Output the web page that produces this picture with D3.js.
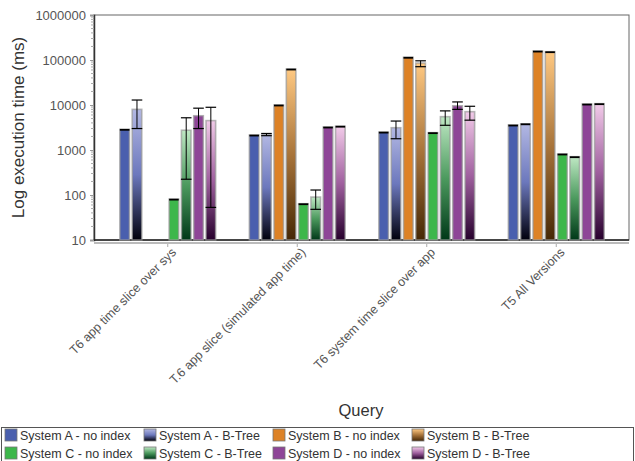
<!DOCTYPE html>
<html><head><meta charset="utf-8">
<script src="https://cdn.jsdelivr.net/npm/d3@7"></script>
<style>body{margin:0;background:#fff}svg{display:block}text{font-family:Arial,"Liberation Sans",sans-serif}</style>
</head><body><svg id="c" width="635" height="461"></svg>
<script>
const categories = ["T6 app time slice over sys","T.6 app slice (simulated app time)","T6 system time slice over app","T5 All Versions"];
const seriesNames = ["System A - no index","System A - B-Tree","System B - no index","System B - B-Tree","System C - no index","System C - B-Tree","System D - no index","System D - B-Tree"];
// values per series, per category (null = no bar)
const sysA_noindex = [2880, 2150, 2500, 3590];
const sysA_btree   = [8000, 2200, 3130, 3820];
const sysB_noindex = [null, 10000, 115000, 158000];
const sysB_btree   = [null, 63000, 85600, 153000];
const sysC_noindex = [81, 64, 2430, 815];
const sysC_btree   = [2750, 90, 5500, 710];
const sysD_noindex = [5770, 3240, 9600, 10500];
const sysD_btree   = [4500, 3380, 7100, 10700];
// error bar low/high
const errLow  = {
  sysA_btree:[3000, 2080, 1780, null], sysC_btree:[224, 48, 3540, null],
  sysD_noindex:[3000, null, 8000, null], sysD_btree:[53, null, 4600, null], sysB_btree:[null, null, 71000, null]
};
const errHigh = {
  sysA_btree:[12900, 2330, 4400, null], sysC_btree:[5200, 129, 7400, null],
  sysD_noindex:[8500, null, 11700, null], sysD_btree:[8900, null, 9370, null], sysB_btree:[null, null, 96000, null]
};
const yTicks = [10,100,1000,10000,100000,1000000];

const seriesKeys = ["sysA_noindex","sysA_btree","sysB_noindex","sysB_btree","sysC_noindex","sysC_btree","sysD_noindex","sysD_btree"];
const seriesVals = [sysA_noindex,sysA_btree,sysB_noindex,sysB_btree,sysC_noindex,sysC_btree,sysD_noindex,sysD_btree];
const solid = {A:"#4a5fae", B:"#dd8226", C:"#3db74b", D:"#8e4597"};
const grad = {
  A:["#b3b8e3","#6c78bd","#00000c"],
  B:["#ffc982","#a8743a","#452705"],
  C:["#bfe8c4","#4c9a5e","#003818"],
  D:["#f2cbe9","#a0609f","#26002c"]
};

const svg = d3.select("#c");
const L=94, R=629, T=15, B=240;
const x = d3.scaleBand().domain(categories).range([103,621]).padding(0);
const groupW = 97;
const xs = d3.scaleBand().domain(seriesKeys).range([-groupW/2, groupW/2]).paddingInner(0.22).paddingOuter(0.05);
const y = d3.scaleLog().domain([10,1e6]).range([B,T]);

const defs = svg.append("defs");
Object.keys(grad).forEach(k=>{
  const g = defs.append("linearGradient").attr("id","g"+k).attr("x1",0).attr("y1",0).attr("x2",0).attr("y2",1);
  g.append("stop").attr("offset","0%").attr("stop-color",grad[k][0]);
  g.append("stop").attr("offset","50%").attr("stop-color",grad[k][1]);
  g.append("stop").attr("offset","100%").attr("stop-color",grad[k][2]);
});
const fillFor = i => { const s = "ABCD"[Math.floor(i/2)]; return i%2===0 ? solid[s] : "url(#g"+s+")"; };

// plot border
svg.append("rect").attr("x",L).attr("y",T).attr("width",R-L).attr("height",B-T)
  .attr("fill","none").attr("stroke","#666").attr("stroke-width",1);

// y axis
const yAxis = d3.axisLeft(y).tickValues(yTicks).tickFormat(d3.format("d")).tickSize(4).tickPadding(4);
const ya = svg.append("g").attr("transform",`translate(${L},0)`).call(yAxis);
ya.select(".domain").attr("stroke","#333").attr("stroke-width",1.5);
ya.selectAll(".tick line").attr("stroke","#999");
ya.selectAll(".tick text").attr("fill","#555").style("font-size","13px");
// minor ticks
const minor = [];
for (let e=1;e<6;e++) for (let m=2;m<10;m++) minor.push(m*Math.pow(10,e));
svg.append("g").selectAll("line").data(minor).join("line")
  .attr("x1",L-3).attr("x2",L).attr("y1",d=>y(d)).attr("y2",d=>y(d)).attr("stroke","#aaa").attr("stroke-width",1);

// bottom plot line
svg.append("line").attr("x1",L).attr("x2",R).attr("y1",B).attr("y2",B).attr("stroke","#222").attr("stroke-width",1.5);

// x axis (below)
const xAxis = d3.axisBottom(x).tickSize(4).tickSizeOuter(0).tickFormat("");
const xa = svg.append("g").attr("transform",`translate(0,${B+3})`).call(xAxis);
xa.select(".domain").remove();
svg.append("line").attr("x1",L).attr("x2",R).attr("y1",B+3).attr("y2",B+3).attr("stroke","#bbb").attr("stroke-width",2);
xa.selectAll(".tick line").attr("stroke","#aaa");
svg.append("g").selectAll("text").data(categories).join("text")
  .attr("transform",d=>`translate(${x(d)+x.bandwidth()/2+6},${B+10}) rotate(-45)`)
  .attr("text-anchor","end").attr("dy","0.35em")
  .attr("fill","#555").style("font-size","12.5px").text(d=>d);

// bars
const bars = [];
seriesVals.forEach((arr,i)=>arr.forEach((v,j)=>{ if(v!=null) bars.push({i,j,v,key:seriesKeys[i]}); }));
const bw = xs.bandwidth();
const bx = d => x(categories[d.j]) + x.bandwidth()/2 + xs(d.key);
svg.append("g").selectAll("rect").data(bars).join("rect")
  .attr("x",bx).attr("width",bw)
  .attr("y",d=>y(d.v)).attr("height",d=>B-y(d.v))
  .attr("fill",d=>fillFor(d.i))
  .attr("stroke","#999").attr("stroke-opacity",0.7).attr("stroke-width",1.6);

// error bars
const eg = svg.append("g");
bars.forEach(d=>{
  const lo = errLow[d.key] && errLow[d.key][d.j] != null ? errLow[d.key][d.j] : d.v;
  const hi = errHigh[d.key] && errHigh[d.key][d.j] != null ? errHigh[d.key][d.j] : d.v;
  const cx = bx(d)+bw/2;
  if (lo!==hi) {
    eg.append("line").attr("x1",cx).attr("x2",cx).attr("y1",y(hi)).attr("y2",y(lo)).attr("stroke","#000").attr("stroke-width",1);
    [lo,hi].forEach(e=>eg.append("line").attr("x1",cx-bw/2-0.5).attr("x2",cx+bw/2+0.5).attr("y1",y(e)).attr("y2",y(e)).attr("stroke","#000").attr("stroke-width",1.2));
  } else {
    eg.append("line").attr("x1",cx-bw/2).attr("x2",cx+bw/2).attr("y1",y(d.v)+0.5).attr("y2",y(d.v)+0.5).attr("stroke","#000").attr("stroke-width",1.8);
  }
});

// axis titles
svg.append("text").attr("transform",`translate(24,${(T+B)/2}) rotate(-90)`).attr("text-anchor","middle")
  .attr("fill","#333").style("font-size","17px").text("Log execution time (ms)");
svg.append("text").attr("x",361).attr("y",416).attr("text-anchor","middle")
  .attr("fill","#333").style("font-size","16.5px").text("Query");

// legend
svg.append("rect").attr("x",1.5).attr("y",427.5).attr("width",632).attr("height",40).attr("fill","none").attr("stroke","#555");
const colX = [5,144,273,412];
const lg = svg.append("g").selectAll("g").data(seriesNames).join("g")
  .attr("transform",(d,i)=>`translate(${colX[i%4]},${429 + Math.floor(i/4)*18})`);
lg.append("rect").attr("width",12).attr("height",12).attr("fill",(d,i)=>fillFor(i)).attr("stroke","#777").attr("stroke-width",0.8);
lg.append("text").attr("x",15).attr("y",11).attr("fill","#333").style("font-size","12.5px").text(d=>d);
</script></body></html>
